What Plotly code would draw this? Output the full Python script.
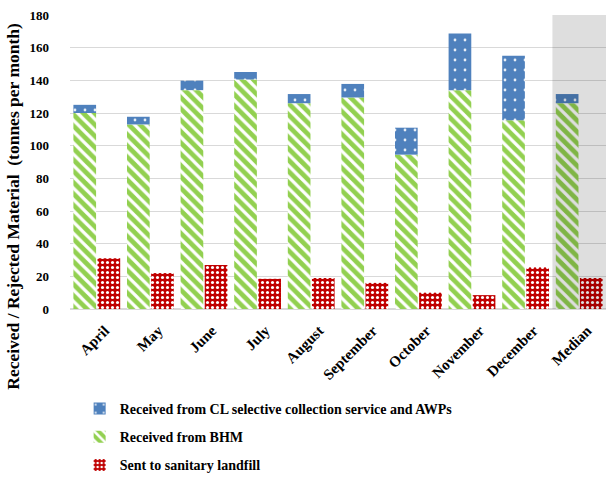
import plotly.graph_objects as go

months = ["April", "May", "June", "July", "August", "September", "October",
          "November", "December", "Median"]
bhm = [120, 113, 134, 140.5, 126, 129.5, 94.5, 134, 115.5, 126]
cl_awp = [5, 4.7, 5.8, 4.6, 5.6, 8.3, 16.5, 34.7, 39.5, 5.6]
landfill = [31, 22, 27, 18.5, 19, 16, 10, 8.5, 25.5, 19]

green = "#92d050"
blue = "#4f81bd"
red = "#c00000"

font_family = "Liberation Serif, Times New Roman, serif"

fig = go.Figure()
fig.add_trace(go.Bar(
    x=months, y=bhm, name="Received from BHM", offsetgroup="a",
    marker=dict(color=green, line=dict(width=0),
                pattern=dict(shape="\\", fgcolor="white", fgopacity=1,
                             fillmode="overlay", size=8, solidity=0.4)),
    legendrank=2, legendgroup="g2",
))
fig.add_trace(go.Bar(
    x=months, y=cl_awp, base=bhm,
    name="Received from CL selective collection service and AWPs", offsetgroup="a",
    marker=dict(color=blue, line=dict(width=0),
                pattern=dict(shape=".", fgcolor="#e8eef6", fgopacity=1,
                             fillmode="overlay", size=10, solidity=0.06)),
    legendrank=1, legendgroup="g1",
))
fig.add_trace(go.Bar(
    x=months, y=landfill, name="Sent to sanitary landfill", offsetgroup="b",
    marker=dict(color=red, line=dict(width=0),
                pattern=dict(shape=".", fgcolor="white", fgopacity=1,
                             fillmode="overlay", size=5, solidity=0.3)),
    legendrank=3, legendgroup="g3",
))

fig.add_shape(type="rect", xref="x", yref="y", x0=8.5, x1=9.6, y0=0, y1=180,
              fillcolor="rgba(0,0,0,0.13)", line=dict(width=0), layer="above")

fig.add_annotation(text="Received / Rejected Material  (tonnes per month)",
                   xref="paper", yref="paper", x=-0.107, y=0.35,
                   xanchor="center", yanchor="middle", textangle=-90,
                   showarrow=False,
                   font=dict(family=font_family, size=17.5, weight="bold", color="black"))

fig.update_layout(
    width=606, height=481,
    margin=dict(l=70, r=0, t=15, b=169),
    barmode="group", bargap=0.1, bargroupgap=0.06,
    plot_bgcolor="white", paper_bgcolor="white",
    font=dict(family=font_family, color="black", size=13),
    showlegend=True,
    legend=dict(x=0.018, y=-0.287, xanchor="left", yanchor="top",
                orientation="v", traceorder="grouped", tracegroupgap=7,
                font=dict(family=font_family, size=14, weight="bold"),
                bgcolor="rgba(0,0,0,0)"),
)
fig.update_yaxes(range=[0, 180], dtick=20, showgrid=True, gridcolor="#d9d9d9",
                 gridwidth=1, zeroline=True, zerolinecolor="#d9d9d9",
                 showline=False, ticks="", ticklabelstandoff=20,
                 tickfont=dict(family=font_family, size=13, weight="bold"))
fig.update_xaxes(range=[-0.5, 9.5], tickangle=-45, showline=True, linecolor="#d9d9d9",
                 ticks="", ticklabelshift=8, ticklabelstandoff=6,
                 tickfont=dict(family=font_family, size=15, weight="bold"))

fig.write_html("out.html")
